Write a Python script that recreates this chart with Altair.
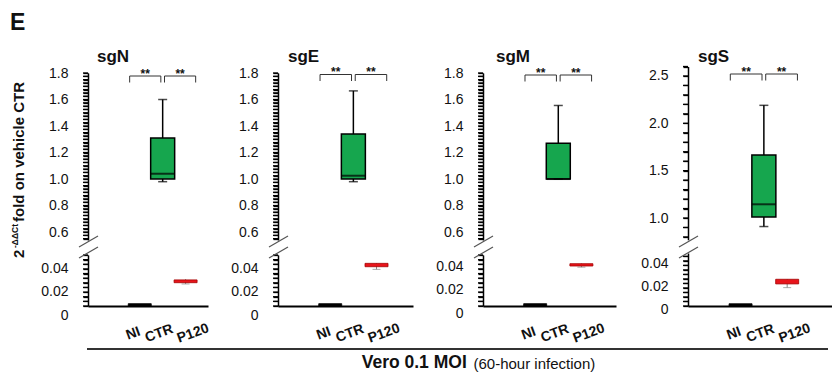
import altair as alt
import numpy as np
import pandas as pd

# ---------------- data ----------------
targets = ["sgN", "sgE", "sgM", "sgS"]
groups = ["NI", "CTR", "P120"]

# CTR (vehicle) box statistics - upper axis segment
ctr_whisker_low = [0.98, 0.98, 1.00, 0.91]
ctr_q1 = [1.00, 1.00, 1.00, 1.01]
ctr_median = [1.04, 1.025, 1.00, 1.145]
ctr_q3 = [1.31, 1.34, 1.27, 1.665]
ctr_whisker_high = [1.60, 1.665, 1.555, 2.19]

# NI box (essentially zero)
ni_q1 = [0.0, 0.0, 0.0, 0.0]
ni_q3 = [0.002, 0.002, 0.002, 0.002]

# P120 box statistics - lower axis segment
p120_whisker_low = [0.0190, 0.0316, 0.0335, 0.0163]
p120_q1 = [0.0201, 0.0339, 0.0345, 0.0196]
p120_q3 = [0.0225, 0.0368, 0.0365, 0.0237]
p120_whisker_high = [0.0232, 0.0370, 0.0368, 0.0239]

sig_ni_ctr = ["**", "**", "**", "**"]
sig_ctr_p120 = ["**", "**", "**", "**"]

panel_letter = "E"
y_title_base = "2"
y_title_sup = "-\u0394\u0394Ct"
y_title_main = "fold on vehicle CTR"
footer_bold = "Vero 0.1 MOI"
footer_normal = "(60-hour infection)"

# ---------------- layout / style ----------------
W, H = 824, 367
FONT = "Liberation Sans"
GREEN = "#16a64e"
RED = "#e8141b"
INK = "#111111"

axis_x = [80, 270, 475, 680]
axis_end = [200, 405, 608, 828]
PX_PER_GROUP = 25.0
FIRST_OFFSET = 51.0

upper_domain = [(0.54, 1.8), (0.54, 1.8), (0.54, 1.8), (0.77, 2.6)]
upper_range = [(232, 65), (232, 65), (232, 65), (231.8, 58.5)]
upper_minor = [0.025, 0.025, 0.025, 0.1]
upper_mult = [5, 5, 5, 2]
lower_domain = [(0, 0.044), (0, 0.044), (0, 0.044), (0, 0.047)]
lower_range = [(298, 247), (298, 247), (298, 247), (298, 245)]
lower_label_shift = [9, 9, 7, 3]
bracket_top = [68, 66.5, 67, 66]
title_dx = [9, 10, 13, 10]
BOX_W = 24
TICK_LEN = 5


def x_scale(i):
    w = axis_end[i] - axis_x[i]
    return alt.Scale(domain=[-FIRST_OFFSET / PX_PER_GROUP, (w - FIRST_OFFSET) / PX_PER_GROUP],
                     range=[axis_x[i], axis_end[i]], zero=False, nice=False)


def y_axis(i, values, mult, fmt, zero_label, shift):
    test = f"abs(datum.value*{mult} - round(datum.value*{mult})) < 0.001"
    if zero_label:
        lab = f"{test} ? (abs(datum.value) < 1e-9 ? '0' : format(datum.value, '{fmt}')) : ''"
    else:
        lab = f"{test} ? format(datum.value, '{fmt}') : ''"
    return alt.Axis(orient="left", offset=-axis_x[i], values=values, labelExpr=lab,
                    title=None, grid=False, domainColor="black", domainWidth=1.5,
                    ticks=True, tickColor="black", tickWidth=1.3, tickSize=TICK_LEN, tickOpacity=1,
                    labelPadding=15,
                    labelFontSize=14, labelFont=FONT, labelColor=INK,
                    labelOffset=shift, labelOverlap=False)


def x_axis(i):
    return alt.Axis(orient="bottom", offset=lower_range[i][0] - H, values=[0, 1, 2],
                    labelExpr="[" + ",".join(f"'{g}'" for g in groups) + "][datum.value]",
                    title=None, grid=False, ticks=True, tickSize=0, tickWidth=0,
                    domainColor="black", domainWidth=2, labelAngle=340,
                    labelAlign="center", labelBaseline="middle", labelPadding=27,
                    labelFont=FONT, labelFontSize=14, labelFontWeight="bold",
                    labelColor=INK, labelOverlap=False, labelFlush=False,
                    labelOffset={"condition": [{"test": "datum.value == 0", "value": -7},
                                               {"test": "datum.value == 2", "value": 7}],
                                 "value": -4})


layers = []

for i, tgt in enumerate(targets):
    xs = x_scale(i)
    gi = {g: k for k, g in enumerate(groups)}

    # ----- upper segment: CTR box -----
    up_vals = list(np.round(np.arange(np.ceil(upper_domain[i][0] / upper_minor[i]) * upper_minor[i],
                                      upper_domain[i][1] + 1e-9, upper_minor[i]), 4))
    ys_up = alt.Scale(domain=list(upper_domain[i]), range=list(upper_range[i]), zero=False, nice=False)
    ax_up = y_axis(i, up_vals, upper_mult[i], ".1f", False, 0)
    up_df = pd.DataFrame({"idx": [gi["CTR"]], "low": [ctr_whisker_low[i]], "q1": [ctr_q1[i]],
                          "med": [ctr_median[i]], "q3": [ctr_q3[i]], "high": [ctr_whisker_high[i]]})
    Xu = alt.X("idx:Q", scale=xs, axis=None)
    base_u = alt.Chart(up_df)
    whisk = base_u.mark_rule(color="black", strokeWidth=1.5).encode(
        x=Xu, y=alt.Y("low:Q", scale=ys_up, axis=ax_up), y2="high:Q")
    box = base_u.mark_bar(size=BOX_W, color=GREEN, stroke="black", strokeWidth=1.5).encode(
        x=Xu, y=alt.Y("q1:Q", scale=ys_up, axis=ax_up), y2="q3:Q")
    med = base_u.mark_tick(orient="horizontal", size=BOX_W, thickness=2, color="black").encode(
        x=Xu, y=alt.Y("med:Q", scale=ys_up, axis=ax_up))
    cap_hi = base_u.mark_tick(orient="horizontal", size=9, thickness=1.5, color="black").encode(
        x=Xu, y=alt.Y("high:Q", scale=ys_up, axis=ax_up))
    cap_lo = base_u.mark_tick(orient="horizontal", size=9, thickness=1.5, color="black").encode(
        x=Xu, y=alt.Y("low:Q", scale=ys_up, axis=ax_up))
    # axis tick comb drawn through the same y scale
    up_ticks = alt.Chart(pd.DataFrame({"v": up_vals})).mark_rule(
        color="black", strokeWidth=1.3).encode(
        x=alt.value(axis_x[i] - TICK_LEN), x2=alt.value(axis_x[i]),
        y=alt.Y("v:Q", scale=ys_up, axis=ax_up))
    layers.append(alt.layer(whisk, box, med, cap_hi, cap_lo, up_ticks))

    # ----- lower segment: NI and P120 boxes, x axis, brackets -----
    lo_vals = list(np.round(np.arange(0, 0.044 + 1e-9, 0.004), 4))
    ys_lo = alt.Scale(domain=list(lower_domain[i]), range=list(lower_range[i]), zero=False, nice=False)
    ax_lo = y_axis(i, lo_vals, 50, ".2f", True, lower_label_shift[i])
    ax_x = x_axis(i)
    lo_df = pd.DataFrame({"grp": ["NI", "P120"], "idx": [gi["NI"], gi["P120"]],
                          "low": [ni_q1[i], p120_whisker_low[i]], "q1": [ni_q1[i], p120_q1[i]],
                          "q3": [ni_q3[i], p120_q3[i]], "high": [ni_q3[i], p120_whisker_high[i]]})
    Xl = alt.X("idx:Q", scale=xs, axis=ax_x)
    base_l = alt.Chart(lo_df)
    p_whisk = base_l.transform_filter("datum.grp == 'P120'").mark_rule(color="#888888", strokeWidth=1).encode(
        x=Xl, y=alt.Y("low:Q", scale=ys_lo, axis=ax_lo), y2="high:Q")
    p_cap = base_l.transform_filter("datum.grp == 'P120'").mark_tick(
        orient="horizontal", size=8, thickness=1, color="#888888").encode(
        x=Xl, y=alt.Y("low:Q", scale=ys_lo, axis=ax_lo))
    l_box = base_l.mark_bar(size=BOX_W - 1, strokeWidth=0.8).encode(
        x=Xl, y=alt.Y("q1:Q", scale=ys_lo, axis=ax_lo), y2="q3:Q",
        color=alt.condition("datum.grp == 'NI'", alt.value("black"), alt.value(RED)),
        stroke=alt.condition("datum.grp == 'NI'", alt.value("black"), alt.value("#a30000")))
    lo_ticks = alt.Chart(pd.DataFrame({"v": lo_vals})).mark_rule(
        color="black", strokeWidth=1.3).encode(
        x=alt.value(axis_x[i] - TICK_LEN), x2=alt.value(axis_x[i]),
        y=alt.Y("v:Q", scale=ys_lo, axis=ax_lo))

    # significance brackets (x through the panel's scale, height in px)
    top = bracket_top[i]
    br_df = pd.DataFrame({"a": [gi["NI"] - 0.44, gi["CTR"] + 0.08],
                          "b": [gi["CTR"] - 0.08, gi["P120"] + 0.44],
                          "s": [sig_ni_ctr[i], sig_ctr_p120[i]]})
    br_df["m"] = (br_df["a"] + br_df["b"]) / 2
    leg_df = pd.DataFrame({"p": list(br_df["a"]) + list(br_df["b"])})
    br_h = alt.Chart(br_df).mark_rule(color="#333333", strokeWidth=1).encode(
        x=alt.X("a:Q", scale=xs, axis=ax_x), x2="b:Q", y=alt.value(top))
    br_v = alt.Chart(leg_df).mark_rule(color="#333333", strokeWidth=1).encode(
        x=alt.X("p:Q", scale=xs, axis=ax_x), y=alt.value(top), y2=alt.value(top + 6.5))
    stars = alt.Chart(br_df).mark_text(font=FONT, fontSize=12, fontWeight="bold", color=INK,
                                       baseline="alphabetic", align="center").encode(
        x=alt.X("m:Q", scale=xs, axis=ax_x), y=alt.value(top + 1.5), text="s:N")
    layers.append(alt.layer(p_whisk, p_cap, l_box, lo_ticks, br_h, br_v, stars))

# ---------------- decorations ----------------
one = pd.DataFrame({"k": [0]})


def text(t, x, y, size, weight="normal", angle=0, align="left", baseline="middle"):
    mk = dict(font=FONT, fontSize=size, fontWeight=weight, color=INK, align=align, baseline=baseline)
    if angle:
        mk["angle"] = angle
    return alt.Chart(pd.DataFrame({"t": [t]})).mark_text(**mk).encode(
        x=alt.value(x), y=alt.value(y), text="t:N")


def rule(x1, y1, x2, y2, color="#555555", width=1.0):
    return alt.Chart(one).mark_rule(color=color, strokeWidth=width).encode(
        x=alt.value(x1), x2=alt.value(x2), y=alt.value(y1), y2=alt.value(y2))


for i, tgt in enumerate(targets):
    layers.append(text(tgt, axis_x[i] + title_dx[i], 48.7, 17, "bold"))
    for c in (233.5, 244.5):
        layers.append(rule(axis_x[i] - 9, c + 5.5, axis_x[i] + 10, c - 5.5, "#555555", 1.2))

layers.append(text(panel_letter, 2, 22, 23, "bold", baseline="alphabetic"))
layers.append(text(y_title_base, 10.8, 250, 15, "bold", angle=270))
layers.append(text(y_title_sup, 6.5, 240, 8.5, "bold", angle=270))
layers.append(text(y_title_main, 10.8, 214, 15, "bold", angle=270))
layers.append(rule(79, 341, 820, 341, "#333333", 2))
layers.append(text(footer_bold, 353.7, 355, 17.5, "bold"))
layers.append(text(footer_normal, 465.5, 355.5, 15))

chart = alt.layer(*layers).resolve_scale(x="independent", y="independent").properties(
    width=W, height=H, padding=0, autosize=alt.AutoSizeParams(type="none")
).configure_view(stroke="transparent")

chart.save("out.html", embed_options={"renderer": "svg", "actions": False})
